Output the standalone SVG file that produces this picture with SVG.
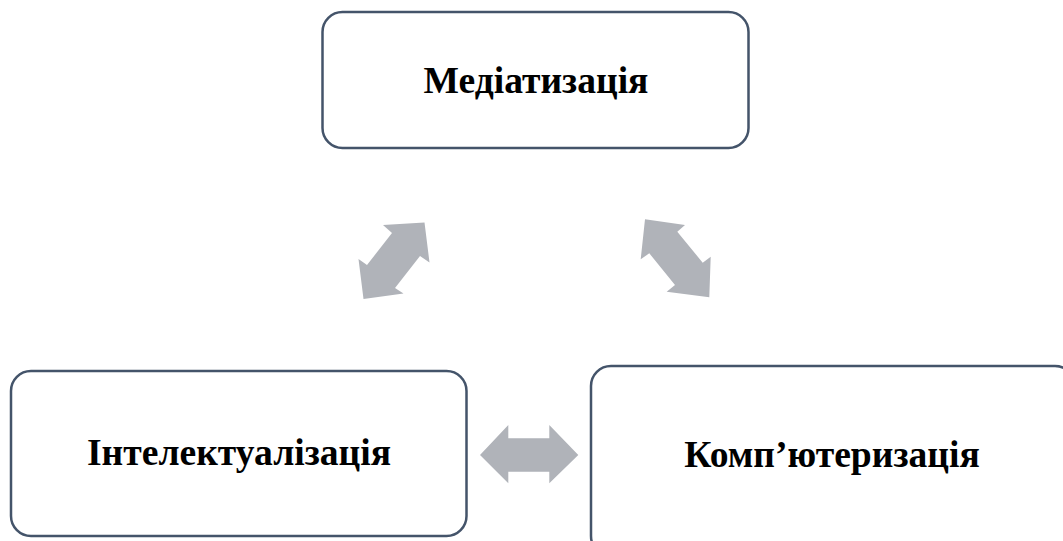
<svg xmlns="http://www.w3.org/2000/svg" width="1063" height="541" viewBox="0 0 1063 541">
<style>
.box{fill:#ffffff;stroke:#44546a;stroke-width:2.5}
.lbl{font-family:"Liberation Serif","Times New Roman",serif;font-weight:bold;font-size:37.6px;fill:#000;text-anchor:middle}
.arr{fill:#b0b3b9}
</style>
<rect width="1063" height="541" fill="#ffffff"/>
<g id="node-mediatization">
<rect class="box" x="322.5" y="12" width="426" height="136" rx="20"/>
<text class="lbl" x="536" y="93">Медіатизація</text>
</g>
<g id="node-intellectualization">
<rect class="box" x="11" y="371" width="455.5" height="165" rx="20"/>
<text class="lbl" x="239" y="465">Інтелектуалізація</text>
</g>
<g id="node-computerization">
<rect class="box" x="591" y="366" width="484" height="190" rx="20"/>
<text class="lbl" x="832" y="467">Комп’ютеризація</text>
</g>
<g id="connectors">
<polygon class="arr" points="424.5,222.5 429.5,262.5 420,256 395,288 403.5,293.5 363.5,299 358.5,259 367,265 392,233 383,225"/>
<polygon class="arr" points="645,219.3 685,225 677.3,231.7 702.7,262.7 710.7,256.7 709.3,297.3 666.7,291.7 675,285 649.3,253.3 640.7,259.3"/>
<polygon class="arr" points="480,455 508.3,425 508.3,438.3 549.3,438.3 549.3,425 578.3,455 549.3,483.3 549.3,471.7 508.3,471.7 508.3,483.3"/>
</g>
</svg>
